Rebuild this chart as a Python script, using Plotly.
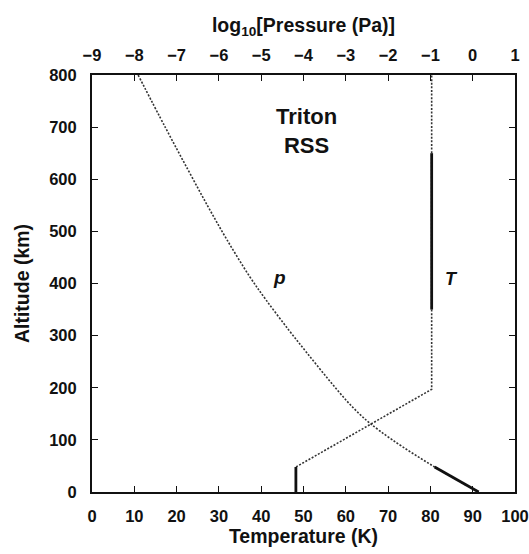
import plotly.graph_objects as go

# Temperature profile (K) vs altitude (km)
t_alt = [0, 48, 197, 350, 650, 800]
t_val = [48.2, 48.2, 80.3, 80.3, 80.3, 80.3]

# Pressure profile log10(P/Pa) vs altitude (km)
p_alt = [0, 48, 100, 132, 150, 175, 215, 266, 311, 369, 413, 484, 548, 618, 700, 800]
p_val = [0.14, -0.90, -1.90, -2.43, -2.68, -2.98, -3.40, -3.91, -4.35, -4.89, -5.27, -5.81, -6.26, -6.73, -7.27, -7.91]

# altitude ranges drawn as solid (measured) lines
t_solid = [(0, 48), (350, 650)]
p_solid = [(0, 48)]

x_ticks = list(range(0, 101, 10))
top_ticks = list(range(-9, 2))
y_ticks = list(range(0, 801, 100))

FONT = "Liberation Sans"
INK = "#111111"
DOT = "#333333"

fig = go.Figure()


def seg(alts, vals, lo, hi):
    xs, ys = [], []
    for a, v in zip(alts, vals):
        if lo <= a <= hi:
            xs.append(v)
            ys.append(a)
    return xs, ys


# dotted full profiles
fig.add_trace(go.Scatter(x=t_val, y=t_alt, mode="lines",
                         line=dict(color=DOT, width=1.6, dash="2px,1.6px"), xaxis="x", yaxis="y"))
fig.add_trace(go.Scatter(x=p_val, y=p_alt, mode="lines", line_shape="spline",
                         line=dict(color=DOT, width=1.6, dash="2px,1.6px"), xaxis="x2", yaxis="y"))
for lo, hi in t_solid:
    xs, ys = seg(t_alt, t_val, lo, hi)
    fig.add_trace(go.Scatter(x=xs, y=ys, mode="lines",
                             line=dict(color=INK, width=2.8), xaxis="x", yaxis="y"))
for lo, hi in p_solid:
    xs, ys = seg(p_alt, p_val, lo, hi)
    fig.add_trace(go.Scatter(x=xs, y=ys, mode="lines",
                             line=dict(color=INK, width=2.8), xaxis="x2", yaxis="y"))

tickfont = dict(family=FONT, size=16.5, color=INK, weight="bold")
titlefont = dict(family=FONT, size=19.5, color=INK, weight="bold")

fig.update_layout(
    width=529, height=554,
    margin=dict(l=92, r=14, t=75, b=62, autoexpand=False),
    paper_bgcolor="white", plot_bgcolor="white",
    showlegend=False,
    xaxis=dict(range=[0, 100], tickvals=x_ticks, ticks="inside", ticklen=6, tickwidth=1.2,
               tickcolor=INK, showline=True, linecolor=INK, linewidth=2, mirror=True,
               showgrid=False, zeroline=False, tickfont=tickfont, automargin=False,
               ticklabelstandoff=8,
               title=dict(text="Temperature (K)", font=titlefont, standoff=6)),
    xaxis2=dict(range=[-9, 1], tickvals=top_ticks, overlaying="x", side="top",
                ticks="inside", ticklen=6, tickwidth=1.2, tickcolor=INK,
                showline=False, showgrid=False, zeroline=False, tickfont=tickfont,
                automargin=False, ticklabelstandoff=10,
                title=dict(text="log<sub>10</sub>[Pressure (Pa)]", font=titlefont, standoff=7)),
    yaxis=dict(range=[0, 800], tickvals=y_ticks, ticks="inside", ticklen=6, tickwidth=1.2,
               tickcolor=INK, showline=True, linecolor=INK, linewidth=2, mirror="ticks",
               showgrid=False, zeroline=False, tickfont=tickfont, automargin=False,
               ticklabelstandoff=10,
               title=dict(text="Altitude (km)", font=titlefont, standoff=14)),
    font=dict(family=FONT, color=INK),
)

fig.add_annotation(x=50.8, y=693, xref="x", yref="y", text="Triton<br>RSS", showarrow=False,
                   font=dict(family=FONT, size=22, color=INK, weight="bold"))
fig.add_annotation(x=44.4, y=411, xref="x", yref="y", text="<i>p</i>", showarrow=False,
                   font=dict(family=FONT, size=19, color=INK, weight="bold"))
fig.add_annotation(x=85.0, y=408, xref="x", yref="y", text="<i>T</i>", showarrow=False,
                   font=dict(family=FONT, size=18, color=INK, weight="bold"))

fig.write_html("out.html")
